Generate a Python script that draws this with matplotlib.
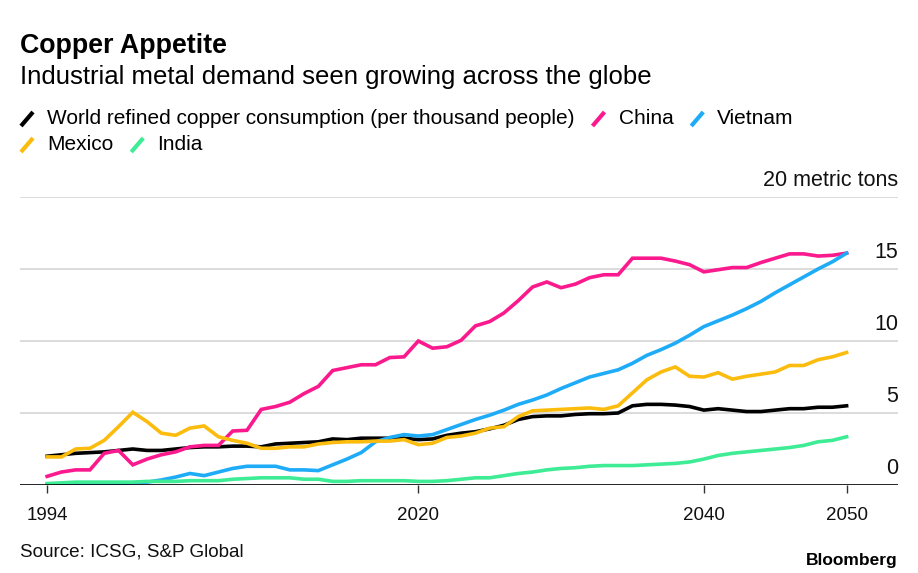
import numpy as np
import matplotlib
matplotlib.use("Agg")
import matplotlib.pyplot as plt
from matplotlib.lines import Line2D

plt.rcParams["font.family"] = ["Liberation Sans", "DejaVu Sans"]

# data, metric tons per thousand people
years = np.arange(1994, 2051)

world = [2.0, 2.1, 2.2, 2.25, 2.3, 2.4, 2.5, 2.4, 2.4, 2.5,
         2.6, 2.65, 2.65, 2.7, 2.7, 2.65, 2.85, 2.9, 2.95, 3.0,
         3.2, 3.15, 3.25, 3.25, 3.25, 3.25, 3.15, 3.2, 3.45, 3.6,
         3.7, 3.9, 4.15, 4.55, 4.75, 4.8, 4.8, 4.9, 4.95, 4.95,
         5.0, 5.5, 5.6, 5.6, 5.55, 5.45, 5.2, 5.3, 5.2, 5.1,
         5.1, 5.2, 5.3, 5.3, 5.4, 5.4, 5.5]

china = [0.6, 0.9, 1.05, 1.05, 2.2, 2.4, 1.4, 1.8, 2.1, 2.3,
         2.65, 2.75, 2.75, 3.75, 3.8, 5.25, 5.45, 5.75, 6.35, 6.85,
         7.95, 8.15, 8.35, 8.35, 8.85, 8.9, 10.0, 9.5, 9.6, 10.05,
         11.05, 11.35, 11.95, 12.8, 13.75, 14.1, 13.7, 13.95, 14.4, 14.6,
         14.6, 15.75, 15.75, 15.75, 15.55, 15.3, 14.8, 14.95, 15.1, 15.1,
         15.45, 15.75, 16.05, 16.05, 15.9, 15.95, 16.1]

vietnam = [0.05, 0.05, 0.05, 0.05, 0.05, 0.1, 0.15, 0.2, 0.35, 0.55,
           0.8, 0.65, 0.9, 1.15, 1.3, 1.3, 1.3, 1.05, 1.05, 1.0,
           1.4, 1.8, 2.25, 3.0, 3.3, 3.5, 3.4, 3.5, 3.85, 4.2,
           4.55, 4.85, 5.2, 5.6, 5.9, 6.25, 6.7, 7.1, 7.5, 7.75,
           8.0, 8.45, 9.0, 9.4, 9.85, 10.4, 11.0, 11.4, 11.8, 12.25,
           12.75, 13.35, 13.9, 14.45, 15.0, 15.5, 16.1]

mexico = [1.95, 1.95, 2.5, 2.55, 3.1, 4.05, 5.05, 4.4, 3.6, 3.45,
          3.95, 4.1, 3.35, 3.1, 2.9, 2.55, 2.55, 2.65, 2.65, 2.85,
          2.95, 3.0, 3.0, 3.05, 3.05, 3.15, 2.8, 2.9, 3.3, 3.4,
          3.6, 3.95, 4.05, 4.75, 5.15, 5.2, 5.25, 5.3, 5.35, 5.25,
          5.5, 6.4, 7.3, 7.85, 8.2, 7.55, 7.5, 7.8, 7.35, 7.55,
          7.7, 7.85, 8.3, 8.3, 8.7, 8.9, 9.2]

india = [0.1, 0.15, 0.2, 0.2, 0.2, 0.2, 0.2, 0.25, 0.25, 0.25,
         0.3, 0.3, 0.3, 0.4, 0.45, 0.5, 0.5, 0.5, 0.4, 0.4,
         0.25, 0.25, 0.3, 0.3, 0.3, 0.3, 0.25, 0.25, 0.3, 0.4,
         0.5, 0.5, 0.65, 0.8, 0.9, 1.05, 1.15, 1.2, 1.3, 1.35,
         1.35, 1.35, 1.4, 1.45, 1.5, 1.6, 1.8, 2.05, 2.2, 2.3,
         2.4, 2.5, 2.6, 2.75, 3.0, 3.1, 3.35]

series = [
    ("World refined copper consumption (per thousand people)", world, "#000000"),
    ("China", china, "#fb1a8e"),
    ("Vietnam", vietnam, "#1eacf8"),
    ("Mexico", mexico, "#fbbc0e"),
    ("India", india, "#3eec95"),
]
x_ticks = [1994, 2020, 2040, 2050]
y_ticks = [0, 5, 10, 15, 20]

W, H = 918, 573
fig = plt.figure(figsize=(W / 100, H / 100), dpi=100)


def fx(px):
    return px / W


def fy(py):
    return 1 - py / H


ax = fig.add_axes([fx(20), fy(485), fx(898) - fx(20), fy(197) - fy(485)])

for name, vals, col in series:
    ax.plot(years, vals, color=col, lw=2.6, solid_joinstyle="miter", zorder=3)

ax.set_xlim(1992.1, 2053.6)
ax.set_ylim(0, 20)
for s in ax.spines.values():
    s.set_visible(False)
ax.axhline(0, color="#000000", lw=1.2, zorder=4)
for v in y_ticks[1:]:
    ax.axhline(v, color="#dcdcdc", lw=1.4, zorder=1)

ax.set_yticks([])
ax.set_xticks(x_ticks)
ax.set_xticklabels([str(t) for t in x_ticks])
ax.tick_params(axis="x", length=6, width=1, color="#333333", pad=10,
               labelsize=13.5, labelcolor="#111111")

# right-hand value labels sit just above each gridline
for v in y_ticks:
    lab = "20 metric tons" if v == 20 else str(v)
    ax.annotate(lab, xy=(1, v), xycoords=("axes fraction", "data"),
                xytext=(0, 4.5), textcoords="offset points",
                ha="right", va="bottom", fontsize=15.5, color="#111111")

# title block
fig.text(fx(20), fy(46), "Copper Appetite", fontsize=19.3, fontweight="bold",
         va="center", ha="left")
fig.text(fx(20), fy(77), "Industrial metal demand seen growing across the globe",
         fontsize=18.5, va="center", ha="left")

# legend with slanted swatches, laid out left to right
fig.canvas.draw()
renderer = fig.canvas.get_renderer()
rows = [[0, 1, 2], [3, 4]]
row_y = [119, 145]
for row, yc in zip(rows, row_y):
    x = 21
    for i in row:
        name, vals, col = series[i]
        fig.add_artist(Line2D([fx(x), fx(x + 12)], [fy(yc + 7), fy(yc - 7)],
                              color=col, lw=3, solid_capstyle="butt"))
        t = fig.text(fx(x + 26), fy(yc), name, fontsize=15, va="center", ha="left")
        bb = t.get_window_extent(renderer)
        x = bb.x1 + 18

fig.text(fx(20), fy(552), "Source: ICSG, S&P Global", fontsize=13.6,
         va="center", ha="left", color="#111111")
fig.text(fx(898), fy(561), "Bloomberg", fontsize=12.5, fontweight="bold",
         va="center", ha="right")

fig.savefig("out.png", dpi=100)
